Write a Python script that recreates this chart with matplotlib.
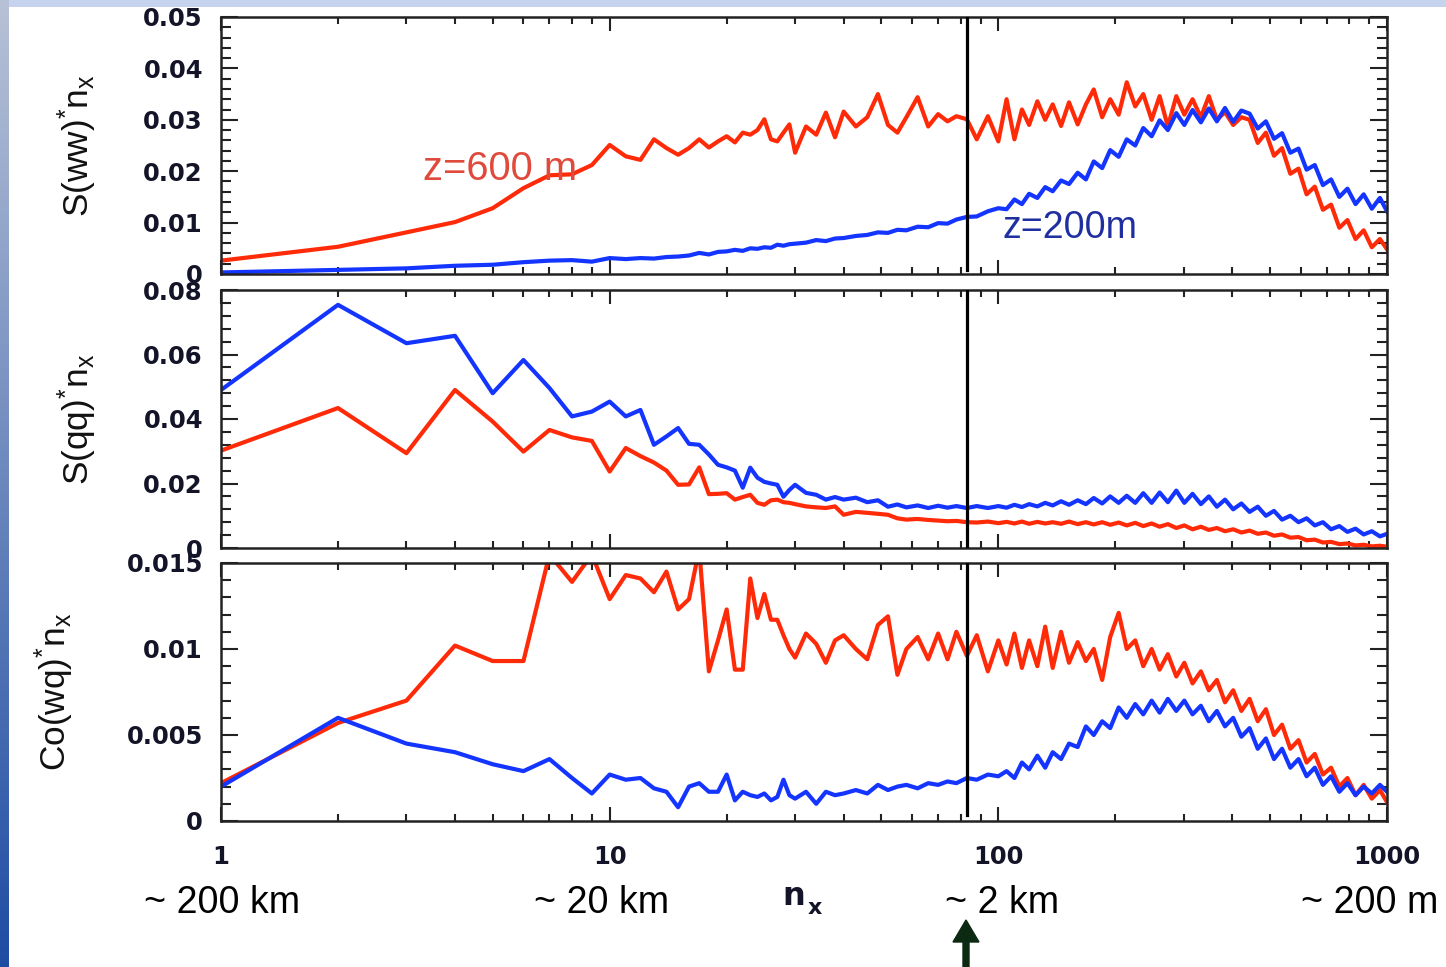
import numpy as np
import matplotlib
matplotlib.use("Agg")
import matplotlib.pyplot as plt
from matplotlib import font_manager
from matplotlib.patches import FancyArrow
from matplotlib.ticker import FixedLocator, FixedFormatter, LogLocator, NullFormatter, MultipleLocator

# wavenumber n_x of each point (integers at low n, thinned out at high n)
n_lo = list(range(1, 31))
n_hi = [32, 34, 36, 38, 40, 43, 46, 49, 52, 55,
        58, 62, 66, 70, 74, 78, 83, 88, 94, 100,
        105, 110, 115, 120, 126, 132, 138, 145, 152, 160,
        168, 176, 185, 194, 204, 214, 225, 236, 248, 260,
        273, 287, 301, 316, 332, 348, 365, 383, 402, 422,
        443, 465, 488, 512, 537, 564, 592, 621, 652, 684,
        718, 754, 791, 830, 871, 914, 959, 1000]
nx = n_lo + n_hi

# S(ww)*n_x
ww_600 = [.0026, .0053, .0081, .0101, .0128, .0167, .0192, .0194, .0212, .0251,
          .0229, .0222, .0262, .0245, .0232, .0245, .0262, .0246, .0258, .0268,
          .0256, .0275, .0271, .0280, .0301, .0262, .0258, .0275, .0291, .0236,
          .0287, .0271, .0314, .0266, .0316, .0287, .0305, .0350, .0290, .0275,
          .0305, .0344, .0287, .0311, .0297, .0307, .0301, .0262, .0307, .0258,
          .0340, .0262, .0320, .0290, .0336, .0300, .0330, .0288, .0334, .0291,
          .0330, .0359, .0305, .0340, .0310, .0373, .0326, .0350, .0300, .0346,
          .0287, .0346, .0310, .0340, .0305, .0346, .0300, .0315, .0290, .0305,
          .0300, .0255, .0275, .0230, .0245, .0195, .0205, .0155, .0170, .0125,
          .0135, .0090, .0105, .0068, .0085, .0052, .0068, .0048]
ww_200 = [.0003, .0008, .0011, .0016, .0018, .0023, .0026, .0027, .0024, .0031,
          .0029, .0031, .0030, .0033, .0034, .0036, .0041, .0038, .0043, .0044,
          .0047, .0045, .0050, .0049, .0052, .0051, .0057, .0055, .0058, .0059,
          .0061, .0066, .0064, .0069, .0070, .0074, .0076, .0081, .0080, .0086,
          .0085, .0092, .0091, .0099, .0098, .0106, .0111, .0112, .0122, .0128,
          .0126, .0145, .0136, .0156, .0148, .0169, .0161, .0182, .0175, .0197,
          .0184, .0219, .0206, .0241, .0228, .0262, .0250, .0284, .0268, .0299,
          .0280, .0313, .0290, .0319, .0295, .0322, .0297, .0323, .0296, .0318,
          .0312, .0283, .0297, .0263, .0274, .0236, .0244, .0203, .0212, .0173,
          .0184, .0150, .0166, .0136, .0155, .0127, .0148, .0122]

# S(qq)*n_x
qq_600 = [.0302, .0434, .0294, .0490, .0392, .0299, .0366, .0343, .0332, .0237,
          .0310, .0285, .0265, .0240, .0196, .0197, .0250, .0167, .0168, .0170,
          .0150, .0158, .0165, .0140, .0134, .0148, .0150, .0142, .0140, .0136,
          .0129, .0126, .0124, .0129, .0103, .0112, .0109, .0106, .0103, .0092,
          .0088, .0090, .0087, .0085, .0083, .0084, .0080, .0079, .0082, .0077,
          .0081, .0076, .0082, .0075, .0081, .0076, .0080, .0075, .0082, .0074,
          .0080, .0073, .0080, .0072, .0079, .0070, .0078, .0068, .0076, .0066,
          .0074, .0062, .0070, .0058, .0066, .0056, .0062, .0052, .0058, .0048,
          .0054, .0044, .0048, .0038, .0042, .0032, .0034, .0024, .0026, .0017,
          .0019, .0012, .0014, .0008, .0010, .0005, .0007, .0004]
qq_200 = [.0490, .0754, .0635, .0658, .0480, .0583, .0496, .0408, .0423, .0454,
          .0408, .0428, .0320, .0346, .0372, .0323, .0320, .0290, .0258, .0250,
          .0240, .0187, .0249, .0218, .0205, .0200, .0196, .0159, .0180, .0196,
          .0171, .0165, .0150, .0158, .0150, .0156, .0142, .0148, .0128, .0135,
          .0126, .0132, .0124, .0131, .0125, .0130, .0124, .0130, .0124, .0130,
          .0125, .0134, .0127, .0136, .0129, .0140, .0132, .0145, .0134, .0148,
          .0136, .0155, .0138, .0160, .0140, .0162, .0140, .0170, .0140, .0172,
          .0142, .0178, .0140, .0168, .0136, .0160, .0128, .0150, .0120, .0138,
          .0112, .0128, .0100, .0115, .0088, .0100, .0080, .0092, .0070, .0080,
          .0058, .0068, .0050, .0060, .0042, .0052, .0036, .0044]

# Co(wq)*n_x
wq_600 = [.0022, .0057, .0070, .0102, .0093, .0093, .0155, .0139, .0155, .0129,
          .0143, .0141, .0133, .0145, .0123, .0129, .0158, .0087, .0105, .0123,
          .0088, .0088, .0141, .0118, .0132, .0117, .0117, .0108, .0100, .0095,
          .0109, .0103, .0092, .0105, .0108, .0100, .0094, .0114, .0119, .0085,
          .0100, .0107, .0094, .0109, .0094, .0110, .0096, .0108, .0087, .0105,
          .0091, .0109, .0089, .0105, .0090, .0113, .0089, .0110, .0092, .0104,
          .0093, .0100, .0082, .0107, .0121, .0100, .0105, .0090, .0100, .0088,
          .0097, .0084, .0092, .0080, .0087, .0076, .0082, .0069, .0076, .0064,
          .0071, .0058, .0065, .0050, .0056, .0042, .0047, .0034, .0039, .0027,
          .0031, .0020, .0025, .0015, .0021, .0013, .0018, .0011]
wq_200 = [.0020, .0060, .0045, .0040, .0033, .0029, .0036, .0025, .0016, .0027,
          .0024, .0025, .0019, .0017, .0008, .0020, .0022, .0017, .0017, .0027,
          .0012, .0017, .0015, .0014, .0016, .0012, .0014, .0024, .0015, .0013,
          .0017, .0010, .0017, .0015, .0016, .0018, .0016, .0021, .0018, .0020,
          .0021, .0019, .0022, .0021, .0023, .0022, .0025, .0024, .0027, .0026,
          .0029, .0025, .0034, .0030, .0038, .0031, .0040, .0036, .0045, .0043,
          .0055, .0050, .0058, .0054, .0066, .0060, .0068, .0062, .0070, .0063,
          .0071, .0064, .0070, .0062, .0067, .0058, .0064, .0055, .0060, .0049,
          .0054, .0042, .0048, .0036, .0042, .0031, .0036, .0026, .0031, .0021,
          .0026, .0017, .0022, .0015, .0020, .0016, .0021, .0017]

panel_names = [r'$\mathrm{S(ww)}^{*}\mathrm{n}_{\mathrm{x}}$',
               r'$\mathrm{S(qq)}^{*}\mathrm{n}_{\mathrm{x}}$',
               r'$\mathrm{Co(wq)}^{*}\mathrm{n}_{\mathrm{x}}$']
ww_ticks = [0, 0.01, 0.02, 0.03, 0.04, 0.05]
ww_labels = ['0', '0.01', '0.02', '0.03', '0.04', '0.05']
qq_ticks = [0, 0.02, 0.04, 0.06, 0.08]
qq_labels = ['0', '0.02', '0.04', '0.06', '0.08']
wq_ticks = [0, 0.005, 0.01, 0.015]
wq_labels = ['0', '0.005', '0.01', '0.015']
x_ticks = [1, 10, 100, 1000]
x_labels = ['1', '10', '100', '1000']
scale_labels = ['~ 200 km', '~ 20 km', '~ 2 km', '~ 200 m']
scale_x = [222, 602, 1002, 1370]   # pixel centres of the notes under the axis
n_cut = 83

RED = '#ff2a08'
BLUE = '#1434ff'

# narrow font like the slide text, if it is there
names = set(f.name for f in font_manager.fontManager.ttflist)
if 'Liberation Sans Narrow' in names:
    narrow, fs = 'Liberation Sans Narrow', 1.0
else:
    narrow, fs = 'Liberation Sans', 0.82

plt.rcParams['font.family'] = 'DejaVu Sans'
plt.rcParams['mathtext.fontset'] = 'custom'
plt.rcParams['mathtext.rm'] = narrow
plt.rcParams['mathtext.it'] = narrow
plt.rcParams['mathtext.bf'] = narrow + ':bold'

W, H = 1446, 967
fig = plt.figure(figsize=(W / 100, H / 100), dpi=100)
fig.patch.set_facecolor('white')

# slide background: light strip on top, blue strip on the left
bg = np.ones((H, W, 3))
bg[:7, :, :] = [0.78, 0.83, 0.94]
grad = np.linspace(0, 1, H)[:, None]
top_c = np.array([0.72, 0.76, 0.84])
bot_c = np.array([0.12, 0.30, 0.64])
bg[:, :9, :] = (top_c * (1 - grad) + bot_c * grad)[:, None, :]
bax = fig.add_axes([0, 0, 1, 1], zorder=-5)
bax.imshow(bg, aspect='auto', extent=[0, W, H, 0])
bax.axis('off')

def px_box(x0, x1, y0, y1):
    return [x0 / W, 1 - y1 / H, (x1 - x0) / W, (y1 - y0) / H]

boxes = [px_box(221, 1387, 17, 274), px_box(221, 1387, 290, 548), px_box(221, 1387, 563, 821)]
series = [(ww_600, ww_200), (qq_600, qq_200), (wq_600, wq_200)]
yticks = [(ww_ticks, ww_labels, 0.002, 0.05), (qq_ticks, qq_labels, 0.004, 0.08), (wq_ticks, wq_labels, 0.001, 0.015)]
label_x = [-0.105, -0.105, -0.124]

axes = []
for i in range(3):
    ax = fig.add_axes(boxes[i])
    red, blue = series[i]
    ax.plot(nx, red, color=RED, lw=3.0, solid_joinstyle='round')
    ax.plot(nx, blue, color=BLUE, lw=3.0, solid_joinstyle='round')
    ymin = 0.015 if i == 0 else (0.025 if i == 2 else 0)
    ax.axvline(n_cut, ymin=ymin, ymax=1, color='k', lw=2.3, zorder=5)
    ax.set_xscale('log')
    ax.set_xlim(1, 1000)
    tk, lb, minor, top = yticks[i]
    ax.set_ylim(0, top)
    ax.yaxis.set_major_locator(FixedLocator(tk))
    ax.yaxis.set_major_formatter(FixedFormatter(lb))
    ax.yaxis.set_minor_locator(MultipleLocator(minor))
    ax.xaxis.set_major_locator(FixedLocator(x_ticks))
    ax.xaxis.set_minor_locator(LogLocator(base=10, subs=range(2, 10)))
    ax.xaxis.set_minor_formatter(NullFormatter())
    if i == 2:
        ax.xaxis.set_major_formatter(FixedFormatter(x_labels))
    else:
        ax.xaxis.set_major_formatter(NullFormatter())
    ax.tick_params(which='both', direction='in', top=True, right=True, width=1.5,
                   colors='#222222', labelcolor='#141428', labelsize=17.5)
    ax.tick_params(axis='y', which='major', length=12, pad=13)
    ax.tick_params(axis='y', which='minor', length=7)
    ax.tick_params(axis='x', which='major', length=10, pad=17)
    ax.tick_params(axis='x', which='minor', length=5)
    for lab in ax.get_yticklabels() + ax.get_xticklabels():
        lab.set_fontweight('bold')
    for sp in ax.spines.values():
        sp.set_linewidth(1.8)
        sp.set_color('#222222')
    ax.set_ylabel(panel_names[i], fontsize=31 * fs, color='#111111')
    ax.yaxis.set_label_coords(label_x[i], 0.5)
    axes.append(ax)

# curve labels in the top panel
axes[0].text(3.31, 0.0182, 'z=600 m', color='#e04a3c', fontsize=35 * fs, family=narrow)
axes[0].text(102.4, 0.0070, 'z=200m', color='#1f2fa0', fontsize=33 * fs, family=narrow)

# overlay in pixel units for the scale notes and the arrow
ov = fig.add_axes([0, 0, 1, 1], zorder=10)
ov.set_xlim(0, W)
ov.set_ylim(H, 0)
ov.axis('off')
for s, px in zip(scale_labels, scale_x):
    ov.text(px, 913, s, ha='center', va='baseline', fontsize=33 * fs, family=narrow, color='black')
ov.text(782, 905, 'n', ha='left', va='baseline', fontsize=23, fontweight='bold', color='#141428')
ov.text(808, 914, 'x', ha='left', va='baseline', fontsize=16, fontweight='bold', color='#141428')
ov.add_patch(FancyArrow(966, 967, 0, -47, width=6, head_width=26, head_length=22,
                        length_includes_head=True, color='#0c2a12'))

fig.savefig('out.png', dpi=100)
